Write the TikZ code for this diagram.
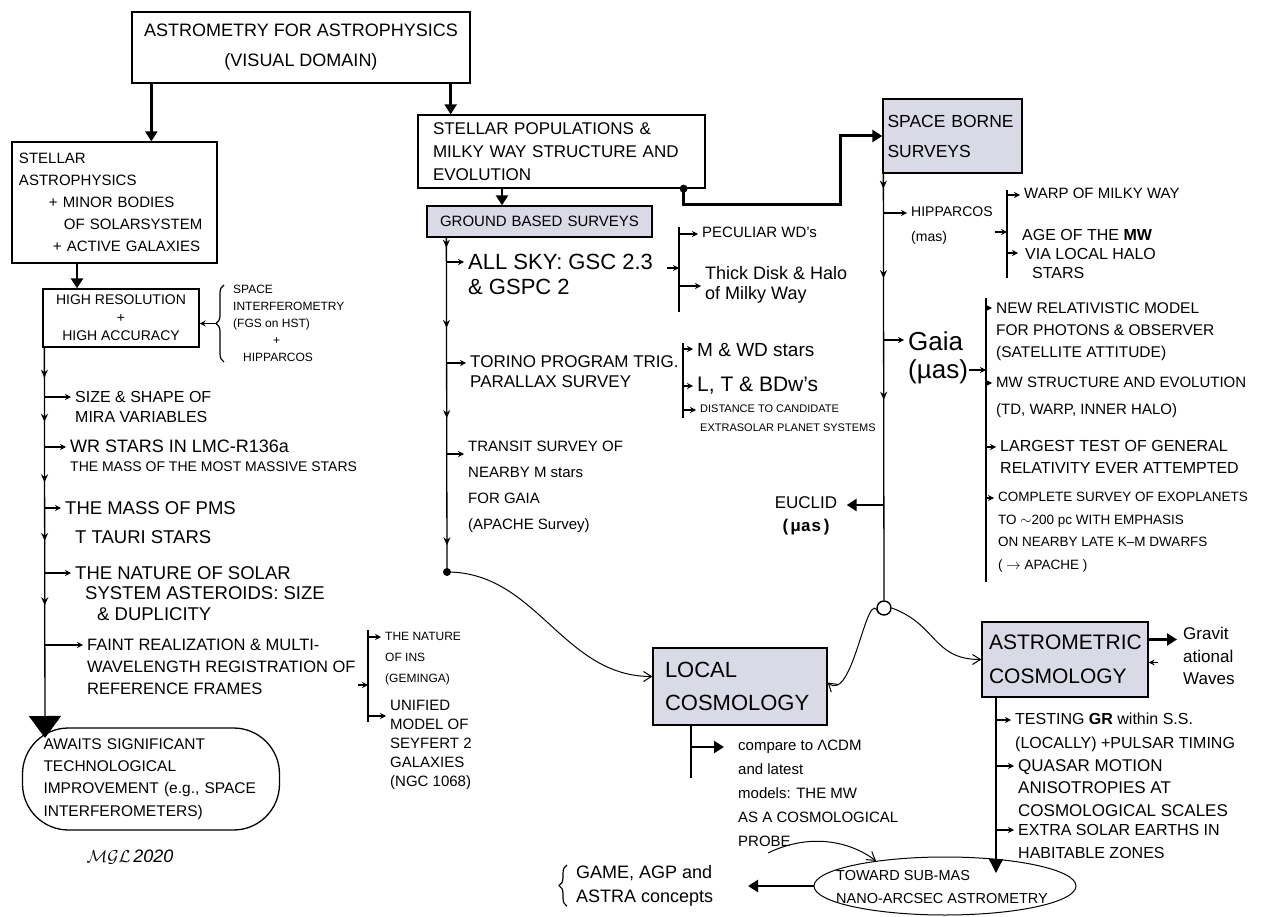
\documentclass[tikz,border=0pt]{standalone}
\usepackage{fontspec}
\setmainfont{Liberation Sans}
\newfontfamily\monofont{Liberation Mono}
\usepackage{tikz}
\usetikzlibrary{arrows.meta, positioning, shapes.geometric, decorations.pathreplacing, decorations.markings}
\definecolor{boxgray}{RGB}{217,218,230}
\newcommand{\midtip}{\arrow{Stealth[length=8pt,width=7pt]}}

\begin{document}
\begin{tikzpicture}[x=1pt, y=-1pt,
    frame/.style={draw=black, line width=1.3pt, align=left},
    survey/.style={frame, fill=boxgray},
    hand/.style={font=\fontsize{14}{20}\selectfont, align=left, inner sep=0pt, anchor=north west},
    bus/.style={draw, line width=1.3pt},
    branch/.style={draw, line width=1.1pt, -{Stealth[length=6pt,width=6pt]}, shorten >=4pt},
    fat/.style={draw, line width=2.6pt, -{Triangle[length=10pt,width=12pt]}},
    curve/.style={draw, line width=1pt, -{Straight Barb[length=8pt,width=10pt]}},
    curly/.style={draw, line width=1.2pt, decorate, decoration={brace, amplitude=8pt}}
  ]
\useasboundingbox (0,0) rectangle (1275,917);

% boxes
\node[frame, align=center, minimum width=338pt, minimum height=71pt, font=\fontsize{18}{30}\selectfont] (title) at (301,47.5) {ASTROMETRY FOR ASTROPHYSICS\\(VISUAL DOMAIN)};
\node[frame, minimum height=121pt, text width=191pt, inner xsep=7pt, font=\fontsize{15}{22}\selectfont] (stellar) at (114.5,202.5) {STELLAR\\ASTROPHYSICS\\\hspace*{30pt}+ MINOR BODIES\\\hspace*{45pt}OF SOLARSYSTEM\\\hspace*{34pt}+ ACTIVE GALAXIES};
\node[frame, align=center, minimum width=156pt, minimum height=58pt, font=\fontsize{14}{18}\selectfont] (hires) at (121,318) {HIGH RESOLUTION\\+\\HIGH ACCURACY};
\node[frame, text width=257pt, inner xsep=15pt, minimum height=73pt, font=\fontsize{17}{23}\selectfont] (stellpop) at (561.5,151.5) {STELLAR POPULATIONS \&\\MILKY WAY STRUCTURE AND\\EVOLUTION};
\node[survey, text width=199pt, inner xsep=13pt, minimum height=31pt, font=\fontsize{15}{17}\selectfont] (ground) at (539.5,221.5) {GROUND BASED SURVEYS};
\node[survey, text width=130pt, inner xsep=4.5pt, minimum height=74pt, font=\fontsize{17.5}{30}\selectfont] (space) at (952.5,136) {SPACE BORNE\\SURVEYS};
\node[survey, text width=150pt, inner xsep=12pt, minimum height=77pt, font=\fontsize{22}{33}\selectfont] (local) at (740,686.5) {LOCAL\\COSMOLOGY};
\node[survey, text width=152pt, inner xsep=7pt, minimum height=75pt, font=\fontsize{21}{34}\selectfont] (astro) at (1065,659.5) {ASTROMETRIC\\COSMOLOGY};
\node[frame, rounded corners=46pt, minimum height=102pt, text width=215pt, inner xsep=21pt, font=\fontsize{15.5}{22.3}\selectfont] (awaits) at (151,779) {AWAITS SIGNIFICANT\\TECHNOLOGICAL\\IMPROVEMENT (e.g., SPACE\\INTERFEROMETERS)};
\node[ellipse, draw, line width=1pt, minimum width=262pt, minimum height=58pt] (submas) at (945,886) {};
\node[hand, font=\fontsize{14.5}{23}\selectfont] (submastxt) at (836,870) {TOWARD SUB-MAS\\NANO-ARCSEC ASTROMETRY};
\node[circle, draw, line width=1.4pt, minimum size=14pt, inner sep=0pt] (junc) at (884,608) {};

% from the title
\coordinate (t1) at ([xshift=20pt]title.south west);
\coordinate (t2) at ([xshift=-20pt]title.south east);
\draw[fat] (t1) -- (t1 |- stellar.north);
\draw[fat] (t2) -- (t2 |- stellpop.north);
\coordinate (s1) at ([xshift=-37.5pt]stellar.south);
\draw[fat] (s1) -- (s1 |- hires.north);

% instruments feeding the high resolution box
\node[hand, font=\fontsize{12}{17}\selectfont] (spaceint) at (233,285) {SPACE\\INTERFEROMETRY\\(FGS on HST)\\\hspace*{40pt}+\\\hspace*{10pt}HIPPARCOS};
\draw[curly] ([xshift=-9pt]spaceint.south west) -- ([xshift=-9pt]spaceint.north west);
\coordinate (bt) at ([xshift=-18pt]spaceint.west);
\draw[branch, shorten >=0pt] (bt) -- (bt -| hires.east);

% left bus
\coordinate (lbus) at ([xshift=2pt]hires.south west);
\coordinate (lend) at (45,738);
\draw[bus, -{Triangle[length=22pt,width=32pt]}, postaction={decorate}, decoration={markings,
    mark=at position 0.077 with {\midtip}, mark=at position 0.19 with {\midtip},
    mark=at position 0.345 with {\midtip}, mark=at position 0.495 with {\midtip},
    mark=at position 0.66 with {\midtip}}] (lbus) -- (lend);
\coordinate (lb1) at (45,397);
\coordinate (lb2) at (45,447);
\coordinate (lb3) at (45,508);
\coordinate (lb4) at (45,573);
\coordinate (lb5) at (45,645);
\node[hand, font=\fontsize{16}{20}\selectfont] (mira) at ([shift={(30pt,6pt)}]lb1) {SIZE \& SHAPE OF\\MIRA VARIABLES};
\node[hand, font=\fontsize{14}{19}\selectfont] (wr) at ([shift={(25pt,7pt)}]lb2) {{\fontsize{18}{19}\selectfont WR STARS IN LMC-R136a}\\THE MASS OF THE MOST MASSIVE STARS};
\node[hand, font=\fontsize{18.5}{20}\selectfont] (pms) at ([shift={(20pt,7pt)}]lb3) {THE MASS OF PMS\\[9pt]\hspace*{10pt}T TAURI STARS};
\node[hand, font=\fontsize{18.5}{20.5}\selectfont] (solar) at ([shift={(30pt,7pt)}]lb4) {THE NATURE OF SOLAR\\\hspace*{10pt}SYSTEM ASTEROIDS: SIZE\\\hspace*{22pt}\& DUPLICITY};
\node[hand, font=\fontsize{16.5}{22}\selectfont] (frames) at ([shift={(42pt,6pt)}]lb5) {FAINT REALIZATION \& MULTI-\\WAVELENGTH REGISTRATION OF\\REFERENCE FRAMES};
\foreach \b/\t in {lb1/mira, lb2/wr, lb3/pms, lb4/solar, lb5/frames}
  \draw[branch] (\b) -- (\b -| \t.west);

% frames bracket
\coordinate (ki1) at (368,630);
\coordinate (ki2) at (368,722);
\coordinate (kiin) at (368,685);
\draw[bus] (ki1) -- (ki2);
\draw[branch, shorten >=0pt] ([xshift=-10pt]kiin) -- (kiin);
\node[hand, font=\fontsize{12}{21}\selectfont] (ins) at (385,632) {THE NATURE\\OF INS\\(GEMINGA)};
\node[hand, font=\fontsize{15}{19}\selectfont] (seyfert) at (390,700) {UNIFIED\\MODEL OF\\SEYFERT 2\\GALAXIES\\(NGC 1068)};
\coordinate (ki3) at (368,637);
\coordinate (ki4) at (368,716);
\draw[branch] (ki3) -- (ki3 -| ins.west);
\draw[branch] (ki4) -- (ki4 -| seyfert.west);

\node[font=\fontsize{18}{20}\selectfont] (sig) at (130,857) {$\mathcal{MGL}\,\mathit{2020}$};

% ground based surveys
\coordinate (p1) at ([xshift=-59.5pt]stellpop.south);
\draw[fat] (p1) -- (p1 |- ground.north);
\coordinate (gbus) at ([xshift=20pt]ground.south west);
\coordinate (gdot) at (447,572);
\draw[bus, postaction={decorate}, decoration={markings,
    mark=at position 0.03 with {\midtip}, mark=at position 0.27 with {\midtip},
    mark=at position 0.54 with {\midtip}, mark=at position 0.92 with {\midtip}}] (gbus) -- (gdot);
\fill (gdot) circle (4pt);
\coordinate (gb1) at (447,262);
\coordinate (gb2) at (447,363);
\coordinate (gb3) at (447,454);
\node[hand, font=\fontsize{22}{25}\selectfont] (allsky) at ([shift={(21pt,8pt)}]gb1) {ALL SKY: GSC 2.3\\\& GSPC 2};
\node[hand, font=\fontsize{17}{20}\selectfont] (torino) at ([shift={(23pt,8pt)}]gb2) {TORINO PROGRAM TRIG.\\PARALLAX SURVEY};
\node[hand, font=\fontsize{15}{26}\selectfont] (transit) at ([shift={(21pt,13pt)}]gb3) {TRANSIT SURVEY OF\\NEARBY M stars\\FOR GAIA\\(APACHE Survey)};
\foreach \b/\t in {gb1/allsky, gb2/torino, gb3/transit}
  \draw[branch] (\b) -- (\b -| \t.west);

% all sky bracket
\coordinate (ka1) at (679,227);
\coordinate (ka2) at (679,312);
\coordinate (kain) at (679,268);
\draw[bus] (ka1) -- (ka2);
\draw[branch, shorten >=0pt] ([xshift=-12pt]kain) -- (kain);
\node[hand, font=\fontsize{15}{20}\selectfont] (peculiar) at (702,227) {PECULIAR WD's};
\node[hand, font=\fontsize{18}{20}\selectfont] (thick) at (705,266) {Thick Disk \& Halo\\of Milky Way};
\coordinate (ka3) at (679,234);
\coordinate (ka4) at (679,286);
\draw[branch] (ka3) -- (ka3 -| peculiar.west);
\draw[branch] (ka4) -- (ka4 -| thick.west);

% torino bracket
\coordinate (kt1) at (683,343);
\coordinate (kt2) at (683,418);
\draw[bus] (kt1) -- (kt2);
\node[hand, font=\fontsize{19}{20}\selectfont] (mwd) at (697,343) {M \& WD stars};
\node[hand, font=\fontsize{21}{20}\selectfont] (ltbd) at (697,377) {L, T \& BDw's};
\node[hand, font=\fontsize{11}{19}\selectfont] (dist) at (700,405) {DISTANCE TO CANDIDATE\\EXTRASOLAR PLANET SYSTEMS};
\coordinate (kt3) at (683,349);
\coordinate (kt4) at (683,386);
\coordinate (kt5) at (683,410);
\draw[branch] (kt3) -- (kt3 -| mwd.west);
\draw[branch] (kt4) -- (kt4 -| ltbd.west);
\draw[branch] (kt5) -- (kt5 -| dist.west);

% to the space borne surveys
\coordinate (e1) at ([xshift=-22pt]stellpop.south east);
\coordinate (e2) at (840,205);
\fill (e1) circle (4pt);
\draw[fat, line width=3pt] (e1) |- (e2) |- (space.west);

% space borne bus
\coordinate (sbus) at ([xshift=1pt]space.south west);
\draw[bus, postaction={decorate}, decoration={markings,
    mark=at position 0.035 with {\midtip}, mark=at position 0.245 with {\midtip},
    mark=at position 0.53 with {\midtip}}] (sbus) -- (junc.north);
\coordinate (sb1) at (884,213);
\coordinate (sb2) at (884,340);
\coordinate (sb3) at (884,505);
\node[hand, font=\fontsize{14}{25}\selectfont] (hipp) at ([shift={(27pt,6pt)}]sb1) {HIPPARCOS\\(mas)};
\node[hand, font=\fontsize{26}{28}\selectfont] (gaia) at ([shift={(24pt,9pt)}]sb2) {Gaia\\(µas)};
\draw[branch] (sb1) -- (sb1 -| hipp.west);
\draw[branch] (sb2) -- (sb2 -| gaia.west);
\node[align=center, font=\fontsize{17}{23}\selectfont] (euclid) at (806,516) {EUCLID\\{\monofont\bfseries (µas)}};
\draw[fat, shorten >=6pt] (sb3) -- (sb3 -| euclid.east);

% hipparcos bracket
\coordinate (kh1) at (1007,190);
\coordinate (kh2) at (1007,278);
\coordinate (khin) at (1007,232);
\draw[bus] (kh1) -- (kh2);
\draw[branch, shorten >=0pt] ([xshift=-12pt]khin) -- (khin);
\node[hand, font=\fontsize{15}{19}\selectfont] (warp) at (1024,188) {WARP OF MILKY WAY};
\node[hand, font=\fontsize{16}{19}\selectfont] (age) at (1022,229) {AGE OF THE \textbf{MW}\\\hspace*{3pt}VIA LOCAL HALO\\\hspace*{10pt}STARS};
\coordinate (kh3) at (1007,195);
\coordinate (kh4) at (1007,253);
\draw[branch] (kh3) -- (kh3 -| warp.west);
\draw[branch] (kh4) -- (kh4 -| age.west);

% gaia bracket
\coordinate (kg1) at (986,298);
\coordinate (kg2) at (986,582);
\coordinate (kgin) at (986,370);
\draw[bus, line width=1.1pt] (kg1) -- (kg2);
\draw[branch, shorten >=0pt] ([xshift=-17pt]kgin) -- (kgin);
\node[hand, font=\fontsize{15.5}{22}\selectfont] (relmodel) at (996,302) {NEW RELATIVISTIC MODEL\\FOR PHOTONS \& OBSERVER\\(SATELLITE ATTITUDE)};
\node[hand, font=\fontsize{15}{27}\selectfont] (mwstruct) at (996,377) {MW STRUCTURE AND EVOLUTION\\(TD, WARP, INNER HALO)};
\node[hand, font=\fontsize{16}{22}\selectfont] (grtest) at (1000,440) {LARGEST TEST OF GENERAL\\RELATIVITY EVER ATTEMPTED};
\node[hand, font=\fontsize{13.5}{22.5}\selectfont] (exopl) at (998,492) {COMPLETE SURVEY OF EXOPLANETS\\TO $\sim$200 pc WITH EMPHASIS\\ON NEARBY LATE K--M DWARFS\\( $\rightarrow$ APACHE )};
\coordinate (kg3) at (986,308);
\coordinate (kg4) at (986,383);
\coordinate (kg5) at (986,447);
\coordinate (kg6) at (986,498);
\foreach \b/\t in {kg3/relmodel, kg4/mwstruct, kg5/grtest, kg6/exopl}
  \draw[branch] (\b) -- (\b -| \t.west);

% cosmology
\draw[curve] (gdot) to[out=0, in=180] ([yshift=10pt]local.west);
\draw[curve] (junc.south west) to[out=110, in=-40] ([yshift=4pt]local.east);
\draw[curve] (junc.east) to[out=-20, in=180, looseness=1.2] (astro.west);

\coordinate (lc1) at ([xshift=-49pt]local.south);
\coordinate (lc2) at (691,778);
\coordinate (lcb) at (691,747);
\draw[bus] (lc1) -- (lc2);
\node[hand, font=\fontsize{15}{24}\selectfont] (compare) at (738,740) {compare to ΛCDM\\and latest\\models: THE MW\\AS A COSMOLOGICAL\\PROBE};
\draw[fat, line width=2.2pt, shorten >=14pt] (lcb) -- (lcb -| compare.west);

\node[hand, font=\fontsize{17}{22.5}\selectfont] (gravit) at (1183,627) {Gravit\\ational\\Waves};
\coordinate (gw) at ([yshift=20pt]astro.east);
\draw[fat, line width=2.4pt, shorten >=6pt] (gw) -- (gw -| gravit.west);
\draw[branch, shorten >=0pt] ([shift={(9pt,-3pt)}]astro.east) -- ([yshift=-3pt]astro.east);

\coordinate (abus) at ([xshift=-69pt]astro.south);
\coordinate (aend) at (996,873);
\draw[bus, -{Triangle[length=14pt,width=14pt]}] (abus) -- (aend);
\coordinate (ab1) at (996,720);
\coordinate (ab2) at (996,766);
\coordinate (ab3) at (996,830);
\node[hand, font=\fontsize{16}{24}\selectfont] (testgr) at ([shift={(19pt,7pt)}]ab1) {TESTING \textbf{GR} within S.S.\\(LOCALLY) +PULSAR TIMING};
\node[hand, font=\fontsize{17}{22.5}\selectfont] (quasar) at ([shift={(22pt,7pt)}]ab2) {QUASAR MOTION\\ANISOTROPIES AT\\COSMOLOGICAL SCALES};
\node[hand, font=\fontsize{16}{23}\selectfont] (earths) at ([shift={(22pt,6pt)}]ab3) {EXTRA SOLAR EARTHS IN\\HABITABLE ZONES};
\foreach \b/\t in {ab1/testgr, ab2/quasar, ab3/earths}
  \draw[branch] (\b) -- (\b -| \t.west);

% toward sub-mas
\coordinate (pc) at (768,853);
\draw[curve] (pc) .. controls (805,835) and (845,838) .. (submas.160);
\coordinate (gend) at (748,886);
\draw[fat] (submas.west) -- (gend);
\node[hand, font=\fontsize{18}{24}\selectfont] (game) at (576,865) {GAME, AGP and\\ASTRA concepts};
\draw[curly] ([xshift=-9pt]game.south west) -- ([xshift=-9pt]game.north west);

\end{tikzpicture}
\end{document}
